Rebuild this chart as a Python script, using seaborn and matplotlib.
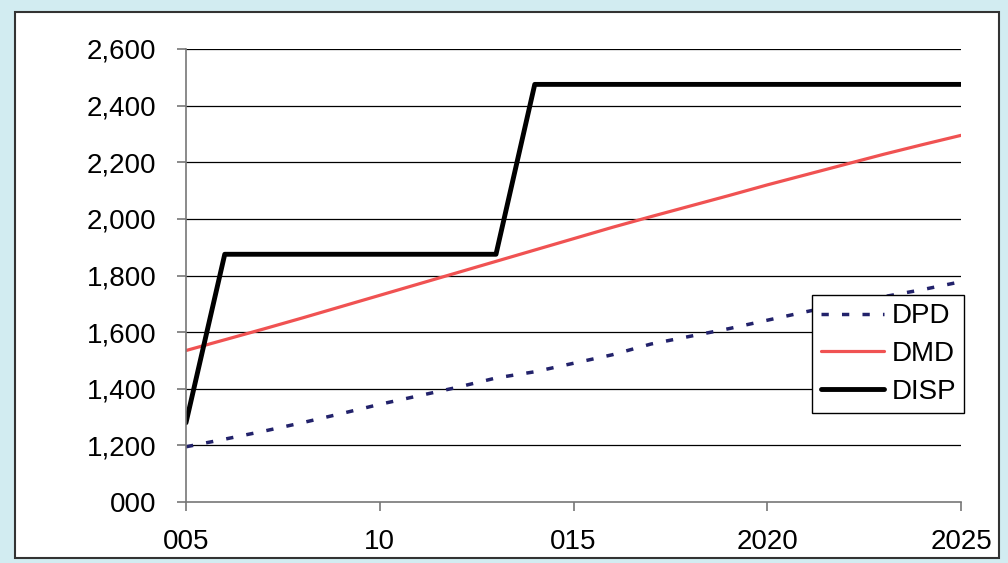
import pandas as pd
import seaborn as sns
import matplotlib.pyplot as plt
from matplotlib.patches import Rectangle

# yearly values
years = list(range(2005, 2026))
dpd = [1195, 1222, 1250, 1280, 1312, 1345, 1375, 1405, 1438, 1460, 1490,
       1520, 1558, 1585, 1612, 1642, 1672, 1700, 1725, 1750, 1778]
dmd = [1535, 1573, 1611, 1650, 1690, 1730, 1770, 1810, 1850, 1890, 1930,
       1970, 2008, 2045, 2082, 2120, 2156, 2192, 2228, 2262, 2295]
disp = [1280, 1875, 1875, 1875, 1875, 1875, 1875, 1875, 1875, 2475, 2475,
        2475, 2475, 2475, 2475, 2475, 2475, 2475, 2475, 2475, 2475]

xtick_pos = [2005, 2010, 2015, 2020, 2025]
xtick_labels = ["005", "10", "015", "2020", "2025"]
ytick_pos = [1000, 1200, 1400, 1600, 1800, 2000, 2200, 2400, 2600]
ytick_labels = ["000", "1,200", "1,400", "1,600", "1,800", "2,000", "2,200", "2,400", "2,600"]

df = pd.DataFrame({"year": years, "DPD": dpd, "DMD": dmd, "DISP": disp})

sns.set_theme(style="white")
plt.rcParams["font.family"] = ["Liberation Sans", "DejaVu Sans"]
plt.rcParams["text.color"] = "black"

fig = plt.figure(figsize=(10.08, 5.63), dpi=100)
fig.patch.set_facecolor("#d2ecf1")
# white inner panel with dark border, kept behind the axes
fig.patches.append(Rectangle((15 / 1008, 1 - 558 / 563), 984 / 1008, 546 / 563,
                             transform=fig.transFigure, facecolor="white",
                             edgecolor="#333333", linewidth=1.5, zorder=-5))

ax = fig.add_axes([186 / 1008, 1 - 502 / 563, 775 / 1008, 453 / 563])
ax.set_facecolor("white")

sns.lineplot(data=df, x="year", y="DPD", ax=ax, color="#22226b", linewidth=2.5,
             linestyle=(0, (2.1, 3.8)), label="DPD")
sns.lineplot(data=df, x="year", y="DMD", ax=ax, color="#f05252", linewidth=2.3,
             label="DMD")
sns.lineplot(data=df, x="year", y="DISP", ax=ax, color="black", linewidth=3.5,
             label="DISP")

ax.set_xlim(2005, 2025)
ax.set_ylim(1000, 2600)
ax.set_xticks(xtick_pos, xtick_labels)
ax.set_yticks(ytick_pos, ytick_labels)
ax.set_xlabel("")
ax.set_ylabel("")

for y in ytick_pos[1:]:
    ax.axhline(y, color="black", linewidth=0.9, zorder=0.5)

for s in ["top", "right"]:
    ax.spines[s].set_visible(False)
for s in ["left", "bottom"]:
    ax.spines[s].set_color("#777777")
    ax.spines[s].set_linewidth(1.2)

ax.tick_params(axis="both", which="major", labelsize=20, colors="#777777",
               labelcolor="black", length=6.5, width=1.2, direction="out")
ax.tick_params(axis="y", pad=15)
ax.tick_params(axis="x", pad=13)
ax.tick_params(left=True, bottom=True)

leg = ax.legend(loc="upper left", bbox_to_anchor=(0.808, 0.457), fontsize=20,
                frameon=True, fancybox=False, framealpha=1, edgecolor="black",
                handlelength=2.3, handletextpad=0.25, labelspacing=0.42,
                borderpad=0.3, borderaxespad=0, labelcolor="black")
leg.get_frame().set_linewidth(1.0)

fig.savefig("out.png", dpi=100, facecolor=fig.get_facecolor())
